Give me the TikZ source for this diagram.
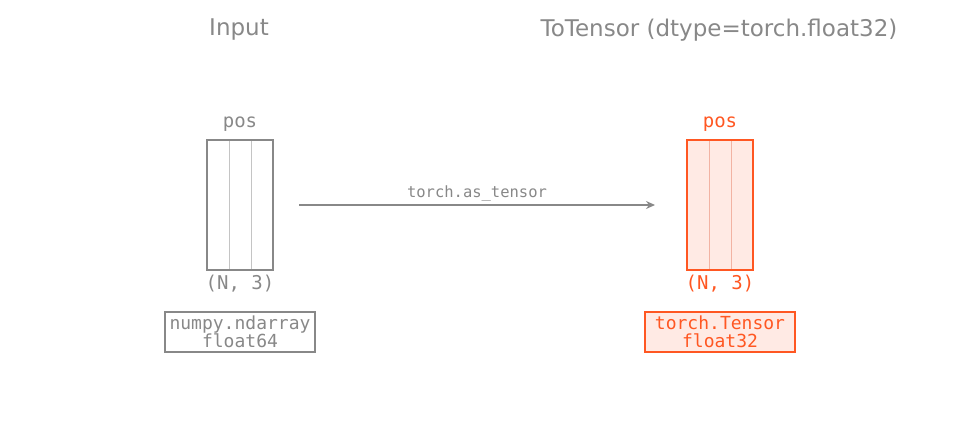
\documentclass[tikz,border=0pt]{standalone}
\usepackage{fontspec}
\setmainfont{DejaVu Sans}
\setmonofont{DejaVu Sans Mono}
\usetikzlibrary{arrows.meta}
\definecolor{gr}{HTML}{888888}
\definecolor{lgr}{HTML}{C4C4C4}
\definecolor{org}{HTML}{FF5722}
\definecolor{lorg}{HTML}{F2B3A3}
\definecolor{forg}{HTML}{FFEAE4}
\begin{document}
\begin{tikzpicture}[x=1pt,y=-1pt,
  title/.style={font=\fontsize{23pt}{26pt}\selectfont},
  mono/.style={font=\ttfamily\fontsize{19pt}{21pt}\selectfont},
  small/.style={font=\ttfamily\fontsize{15.5pt}{17pt}\selectfont},
  arr/.style={draw=#1,line width=1.3pt,rectangle,minimum width=66pt,minimum height=130pt,inner sep=0},
  tbox/.style={draw=#1,line width=1.3pt,rectangle,minimum width=150pt,minimum height=40pt,inner sep=0,align=center,font=\ttfamily\fontsize{18pt}{18pt}\selectfont,text=#1}]
\useasboundingbox (0,0) rectangle (960,420);
\node[title,text=gr] (t1) at (239,30) {Input};
\node[title,text=gr] (t2) at (719,30) {ToTensor (dtype=torch.float32)};
% left
\node[arr=gr] (a) at (240,205) {};
\draw[lgr,line width=1pt] (229,141) -- (229,269) (251,141) -- (251,269);
\draw[gr,line width=1.3pt] (207,140) rectangle (273,270);
\node[mono,text=gr] (p1) at (240,124) {pos};
\node[mono,text=gr] (s1) at (240,284) {(N, 3)};
\node[tbox=gr] (b1) at (240,332) {numpy.ndarray\\float64};
% right
\node[arr=org,fill=forg] (b) at (720,205) {};
\draw[lorg,line width=1pt] (709,141) -- (709,269) (731,141) -- (731,269);
\draw[org,line width=1.3pt] (687,140) rectangle (753,270);
\node[mono,text=org] (p2) at (720,124) {pos};
\node[mono,text=org] (s2) at (720,284) {(N, 3)};
\node[tbox=org,fill=forg] (b2) at (720,332) {torch.Tensor\\float32};
% arrow
\coordinate (c1) at (299,205);
\coordinate (c2) at (655,205);
\draw[gr,line width=1.3pt,-{Stealth[length=9pt,width=8pt]}] (c1) -- (c2);
\node[small,text=gr] (l) at (477,193) {torch.as\_tensor};
\end{tikzpicture}
\end{document}
